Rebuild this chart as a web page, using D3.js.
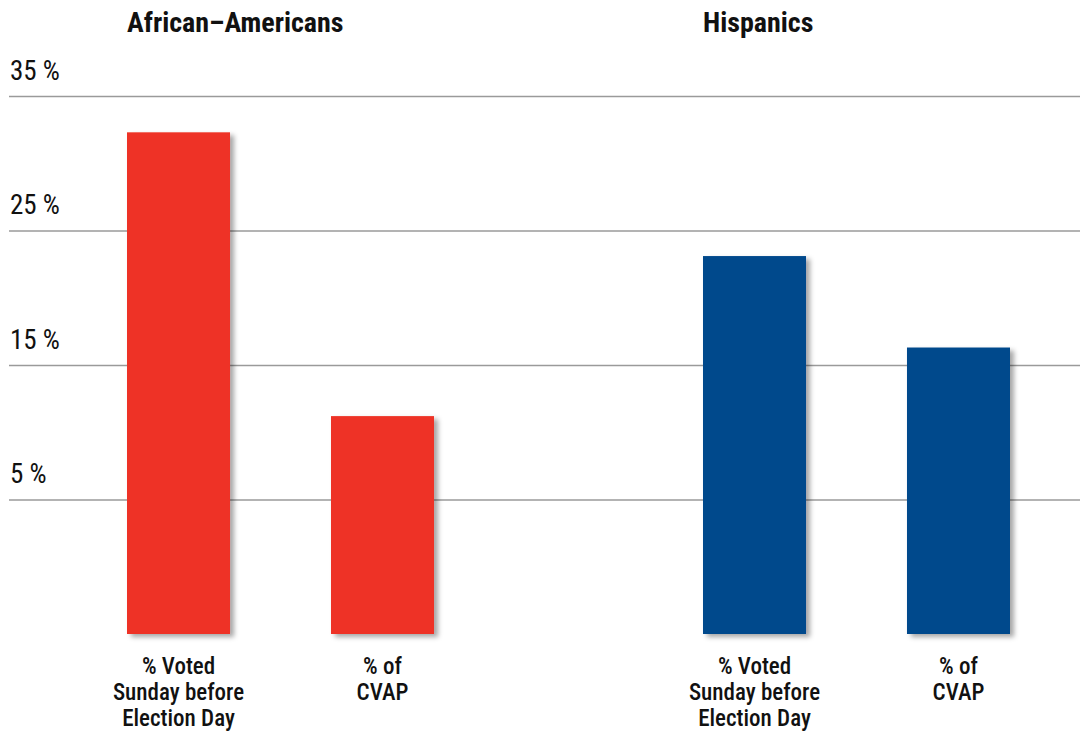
<!DOCTYPE html>
<html>
<head>
<meta charset="utf-8">
<title>Sunday voting</title>
<script src="https://d3js.org/d3.v7.min.js"></script>
<style>
  body { margin: 0; background: #fff; }
  svg text { font-family: "Liberation Sans Narrow", "Arial Narrow", "Roboto Condensed", sans-serif; fill: #111; }
</style>
</head>
<body>
<div id="chart"></div>
<script>
// data
var groups = ["African\u2013Americans", "Hispanics"]
var measures = ["% Voted Sunday before Election Day", "% of CVAP"]
var measureLines = [["% Voted", "Sunday before", "Election Day"], ["% of", "CVAP"]]
var africanAmericans = [32.3, 11.2]
var hispanics = [23.1, 16.3]
var groupColors = ["#ee3325", "#014a8c"]
var tickValues = [35, 25, 15, 5]
var baseValue = -5   // bars start one step below the lowest gridline

var width = 1080, height = 734

var svg = d3.select("#chart")
  .append("svg")
  .attr("width", width)
  .attr("height", height)

// soft shadow behind the bars
var f = svg.append("defs").append("filter")
  .attr("id", "shadow")
  .attr("x", "-10%").attr("y", "-10%")
  .attr("width", "130%").attr("height", "130%")
f.append("feDropShadow")
  .attr("dx", 4).attr("dy", 3)
  .attr("stdDeviation", 2.5)
  .attr("flood-color", "#000")
  .attr("flood-opacity", 0.35)

var y = d3.scaleLinear()
  .domain([baseValue, 35])
  .range([634, 96])

var x0 = d3.scaleBand()
  .domain(groups)
  .range([127, 1010])
  .paddingInner(0.467)

var x1 = d3.scaleBand()
  .domain(measures)
  .range([0, x0.bandwidth()])
  .paddingInner(0.495)

// gridlines + tick labels sitting above them
var grid = svg.append("g")
  .attr("transform", "translate(9,0)")
  .call(d3.axisRight(y).tickValues(tickValues).tickSize(width - 9).tickFormat(function(d) { return d + " %" }))
grid.select(".domain").remove()
grid.selectAll(".tick line")
  .attr("stroke", "#9a9a9a")
  .attr("stroke-width", 1.5)
grid.selectAll(".tick text")
  .attr("x", 1)
  .attr("dy", "-17")
  .attr("text-anchor", "start")
  .style("font-size", "27px")

var rows = groups.map(function(g, i) {
  var vals = i == 0 ? africanAmericans : hispanics
  return { group: g, color: groupColors[i], values: vals.map(function(v, j) { return { key: measures[j], value: v, lines: measureLines[j] } }) }
})

var gs = svg.selectAll(".grp")
  .data(rows)
  .enter().append("g")
  .attr("class", "grp")
  .attr("transform", function(d) { return "translate(" + x0(d.group) + ",0)" })

// group titles
gs.append("text")
  .attr("x", 0)
  .attr("y", 32)
  .style("font-size", "28px")
  .style("font-weight", "bold")
  .text(function(d) { return d.group })

gs.selectAll("rect")
  .data(function(d) { return d.values.map(function(v) { v.color = d.color; return v }) })
  .enter().append("rect")
  .attr("x", function(d) { return x1(d.key) })
  .attr("width", x1.bandwidth())
  .attr("y", function(d) { return y(d.value) })
  .attr("height", function(d) { return y(baseValue) - y(d.value) })
  .attr("fill", function(d) { return d.color })
  .attr("filter", "url(#shadow)")

// category labels under the bars
var lab = gs.selectAll(".lab")
  .data(function(d) { return d.values })
  .enter().append("text")
  .attr("class", "lab")
  .attr("text-anchor", "middle")
  .attr("transform", function(d) { return "translate(" + (x1(d.key) + x1.bandwidth() / 2) + ",674)" })
  .style("font-size", "23px")
  .style("font-weight", "500")
lab.selectAll("tspan")
  .data(function(d) { return d.lines })
  .enter().append("tspan")
  .attr("x", 0)
  .attr("y", function(d, i) { return i * 26 })
  .text(function(d) { return d })
</script>
</body>
</html>
